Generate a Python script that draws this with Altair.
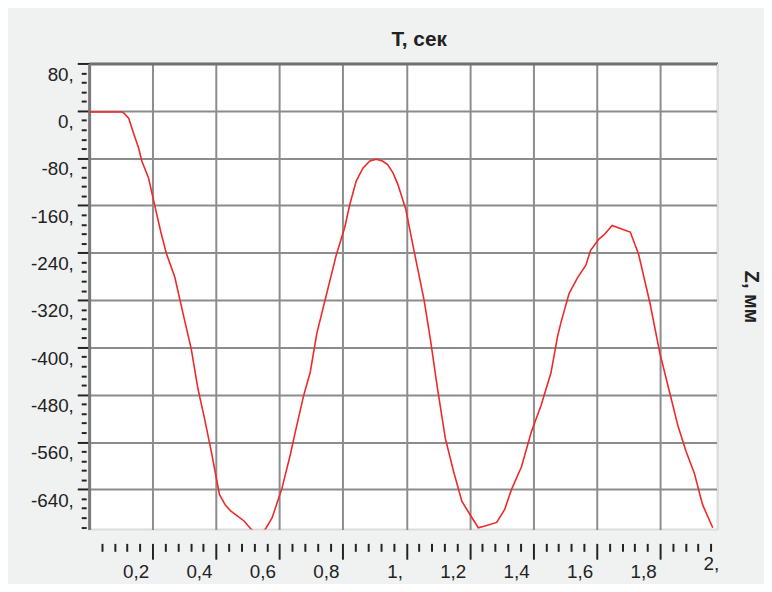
import altair as alt
import pandas as pd

# ---- data ----
t_sec = [0.000, 0.104, 0.112, 0.125, 0.140, 0.156, 0.166, 0.187, 0.208, 0.226,
         0.244, 0.270, 0.291, 0.322, 0.343, 0.364, 0.385, 0.411, 0.430, 0.447,
         0.470, 0.489, 0.510, 0.533, 0.556, 0.577, 0.608, 0.634, 0.650, 0.676,
         0.697, 0.718, 0.749, 0.780, 0.806, 0.822, 0.842, 0.863, 0.885, 0.905,
         0.925, 0.941, 0.958, 0.973, 0.998, 1.024, 1.056, 1.076, 1.097, 1.123,
         1.149, 1.175, 1.201, 1.227, 1.248, 1.285, 1.310, 1.331, 1.363, 1.394,
         1.425, 1.456, 1.477, 1.487, 1.513, 1.539, 1.566, 1.581, 1.607, 1.623,
         1.649, 1.685, 1.706, 1.732, 1.768, 1.799, 1.830, 1.856, 1.882, 1.908,
         1.934, 1.966]
z_mm = [-2, -2, -5, -13, -38, -63, -85, -113, -163, -205,
        -242, -281, -331, -403, -470, -521, -576, -649, -667, -677,
        -686, -694, -707, -718, -707, -688, -638, -582, -543, -482,
        -442, -376, -309, -242, -197, -158, -119, -97, -85, -82,
        -85, -91, -105, -124, -166, -236, -320, -387, -465, -554,
        -610, -660, -683, -705, -702, -696, -674, -641, -602, -543,
        -498, -443, -381, -359, -309, -283, -261, -236, -217, -210,
        -194, -201, -205, -242, -325, -409, -476, -532, -576, -613,
        -666, -705]

x_major = [0.2, 0.4, 0.6, 0.8, 1.0, 1.2, 1.4, 1.6, 1.8]
x_minor = [round(0.04 * i, 2) for i in range(1, 50) if i % 5 != 0]
y_major = [80, 0, -80, -160, -240, -320, -400, -480, -560, -640]
y_minor = [v for v in range(-704, 80, 16) if v % 80 != 0]

x_title = "T, сек"
y_title = "Z, мм"

df = pd.DataFrame({"t": t_sec, "z": z_mm})

FONT = "Liberation Sans"
INK = "#222222"
GRID = "#8c8c8c"

xs = alt.Scale(domain=[0, 1.981], nice=False, zero=False)
ys = alt.Scale(domain=[-708, 80], nice=False, zero=False)

base = alt.Chart(df)

# main line + major axes
line = base.mark_line(color="#f02828", strokeWidth=1.6, clip=True).encode(
    x=alt.X("t:Q", scale=xs, title=None, axis=alt.Axis(
        orient="bottom", values=x_major, offset=14, tickSize=16, tickWidth=2,
        tickColor=INK, domain=False, grid=False,
        labelExpr="datum.value == 1 ? '1,' : replace(toString(datum.value), '.', ',')",
        labelAlign="right", labelOffset=-4, labelPadding=3, labelFont=FONT,
        labelFontSize=19, labelColor=INK, labelFlush=False, labelOverlap=False)),
    y=alt.Y("z:Q", scale=ys, title=None, axis=alt.Axis(
        orient="left", values=y_major, tickSize=12, tickWidth=2, tickColor=INK,
        domain=True, domainColor="#7a7a7a", domainWidth=3,
        grid=True, gridColor=GRID, gridWidth=2,
        labelExpr="toString(datum.value) + ','",
        labelAlign="right", labelBaseline="top", labelOffset=2, labelPadding=4,
        labelFont=FONT, labelFontSize=19, labelColor=INK, labelFlush=False,
        labelOverlap=False)),
)

# minor ticks (and the final "2," label)
minor = base.mark_line(opacity=0).encode(
    x=alt.X("t:Q", scale=xs, title=None, axis=alt.Axis(
        orient="bottom", values=x_minor, offset=14, tickSize=8, tickWidth=2,
        tickColor=INK, domain=False, grid=False,
        labelExpr="datum.value > 1.95 ? '2,' : ''", labelAlign="center",
        labelPadding=3, labelFont=FONT, labelFontSize=19, labelColor=INK,
        labelFlush=False, labelOverlap=False)),
    y=alt.Y("z:Q", scale=ys, title=None, axis=alt.Axis(
        orient="left", values=y_minor, offset=3, tickSize=5, tickWidth=2,
        tickColor=INK, domain=False, grid=False, labels=False)),
)

# frame: top border + vertical grid, right border + right title
frame = base.mark_line(opacity=0).encode(
    x=alt.X("t:Q", scale=xs, title=None, axis=alt.Axis(
        orient="top", values=x_major, ticks=False, labels=False,
        domain=True, domainColor="#707070", domainWidth=3,
        grid=True, gridColor=GRID, gridWidth=2)),
    y=alt.Y("z:Q", scale=ys, title=y_title, axis=alt.Axis(
        orient="right", ticks=False, labels=False, grid=False,
        domain=True, domainColor="#dedede", domainWidth=2,
        titleFont=FONT, titleFontSize=20, titleFontWeight="bold",
        titleColor=INK, titlePadding=23)),
)

chart = alt.layer(line, minor, frame).resolve_axis(
    x="independent", y="independent"
).properties(
    width=635,
    height=471,
    title=alt.TitleParams(x_title, anchor="middle", frame="group", font=FONT,
                          fontSize=21, fontWeight="bold", color=INK,
                          offset=13, dx=16),
    autosize=alt.AutoSizeParams(type="none"),
    padding={"left": 82, "top": 53, "right": 47, "bottom": 52},
    background="#f0f1f1",
).configure_view(
    stroke="#dcdcdc", strokeWidth=2, fill="white"
)

chart.save("out.html", embed_options={"renderer": "svg", "actions": False})
